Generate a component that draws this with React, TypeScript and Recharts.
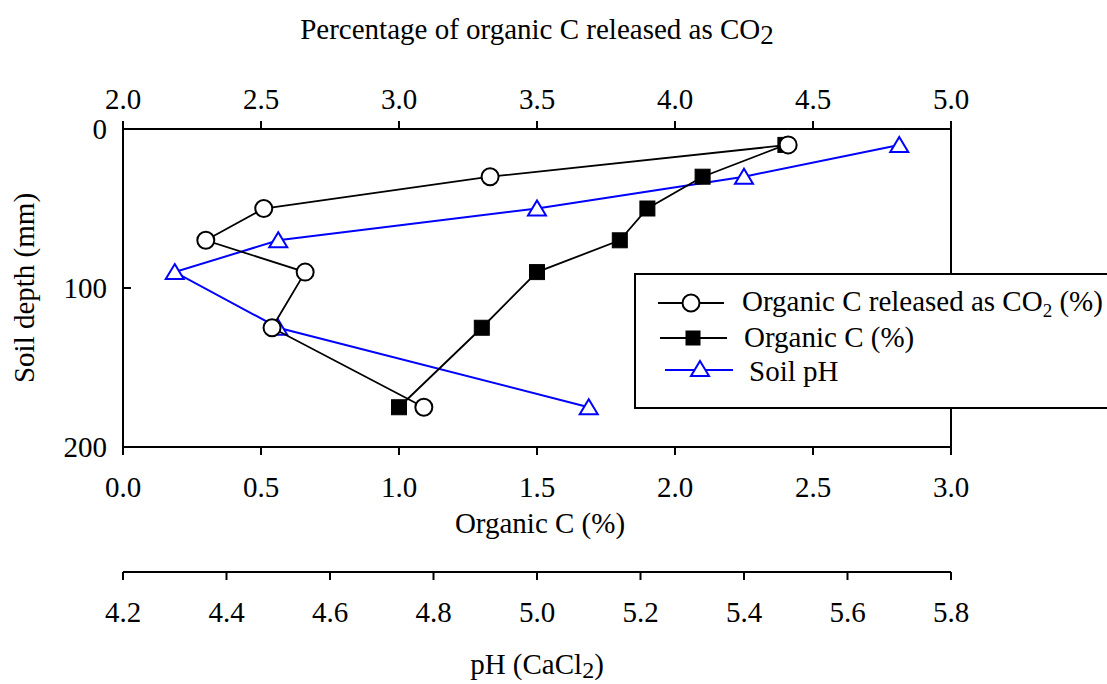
import React from 'react';
import { ScatterChart, Scatter, XAxis, YAxis, Legend, ReferenceLine, Label } from 'recharts';

// ---- data ----
const depths = [10, 30, 50, 70, 90, 125, 175];
const co2Released = [4.41, 3.33, 2.51, 2.3, 2.66, 2.54, 3.09];
const organicC = [2.4, 2.1, 1.9, 1.8, 1.5, 1.3, 1.0];
const soilPH = [5.7, 5.4, 5.0, 4.5, 4.3, 4.5, 5.1];

const co2Ticks = [2.0, 2.5, 3.0, 3.5, 4.0, 4.5, 5.0];
const orgCTicks = [0.0, 0.5, 1.0, 1.5, 2.0, 2.5, 3.0];
const phTicks = [4.2, 4.4, 4.6, 4.8, 5.0, 5.2, 5.4, 5.6, 5.8];
const depthTicks = [0, 100, 200];

const co2Data = depths.map((d, i) => ({ depth: d, value: co2Released[i] }));
const orgCData = depths.map((d, i) => ({ depth: d, value: organicC[i] }));
const phData = depths.map((d, i) => ({ depth: d, value: soilPH[i] }));

const FONT = '"Liberation Serif", "Times New Roman", serif';
const FS = 29;
const BLUE = '#0000ff';

const tickStyle = { fontSize: FS, fontFamily: FONT, fill: '#000' };
const axisLineStyle = { stroke: '#000', strokeWidth: 2 };
const fmt1 = (v: number) => v.toFixed(1);

const CircleShape = (p: any) => (
  <circle cx={p.cx} cy={p.cy} r={8.5} fill="#fff" stroke="#000" strokeWidth={2} />
);
const SquareShape = (p: any) => (
  <rect x={p.cx - 7.5} y={p.cy - 7.5} width={15} height={15} fill="#000" stroke="#000" strokeWidth={1} />
);
const TriangleShape = (p: any) => (
  <polygon
    points={`${p.cx},${p.cy - 8} ${p.cx + 9},${p.cy + 7} ${p.cx - 9},${p.cy + 7}`}
    fill="#fff"
    stroke={BLUE}
    strokeWidth={2}
  />
);

const LegendBox = () => (
  <div
    style={{
      width: 500,
      height: 132,
      border: '2px solid #000',
      background: '#fff',
      boxSizing: 'content-box',
    }}
  >
    <svg width={500} height={132} style={{ display: 'block' }} fontFamily={FONT} fontSize={FS}>
      <line x1={22} x2={88} y1={28} y2={28} stroke="#000" strokeWidth={1.8} />
      <circle cx={55} cy={28} r={8.5} fill="#fff" stroke="#000" strokeWidth={2} />
      <text x={106} y={36} fill="#000">
        <tspan>Organic C released as CO</tspan>
        <tspan dy={6} fontSize={19}>2</tspan>
        <tspan dy={-6}> (%)</tspan>
      </text>

      <line x1={24} x2={91} y1={63} y2={63} stroke="#000" strokeWidth={1.8} />
      <rect x={57 - 7.5} y={63 - 7.5} width={15} height={15} fill="#000" />
      <text x={108} y={72} fill="#000">Organic C (%)</text>

      <line x1={29} x2={97} y1={95} y2={95} stroke={BLUE} strokeWidth={2} />
      <polygon points={`64,86 73,101 55,101`} fill="#fff" stroke={BLUE} strokeWidth={2} />
      <text x={113} y={106} fill="#000">Soil pH</text>
    </svg>
  </div>
);

const TopTitle = (props: any) => {
  const vb = props.viewBox || { x: 123, y: 0, width: 828, height: 129 };
  return (
    <text x={vb.x + vb.width / 2} y={vb.y + 39} textAnchor="middle" fontFamily={FONT} fontSize={FS} fill="#000">
      <tspan>Percentage of organic C released as CO</tspan>
      <tspan dy={5} fontSize={27}>2</tspan>
    </text>
  );
};

const OrgCTitle = (props: any) => {
  const vb = props.viewBox || { x: 123, y: 447, width: 828, height: 125 };
  return (
    <text x={vb.x + vb.width / 2 + 3} y={vb.y + 86} textAnchor="middle" fontFamily={FONT} fontSize={FS} fill="#000">
      Organic C (%)
    </text>
  );
};

const PhTitle = (props: any) => {
  const vb = props.viewBox || { x: 123, y: 572, width: 828, height: 112 };
  return (
    <text x={vb.x + vb.width / 2} y={vb.y + 102} textAnchor="middle" fontFamily={FONT} fontSize={FS} fill="#000">
      <tspan>pH (CaCl</tspan>
      <tspan dy={4} fontSize={24}>2</tspan>
      <tspan dy={-4}>)</tspan>
    </text>
  );
};

const DepthTitle = (props: any) => {
  const vb = props.viewBox || { x: 0, y: 129, width: 123, height: 318 };
  const cy = vb.y + vb.height / 2;
  return (
    <text
      transform={`translate(34, ${cy}) rotate(-90)`}
      textAnchor="middle"
      fontFamily={FONT}
      fontSize={FS}
      fill="#000"
    >
      Soil depth (mm)
    </text>
  );
};

export default function App() {
  return (
    <div
      style={{
        position: 'absolute',
        left: 0,
        top: 0,
        width: 1107,
        height: 684,
        overflow: 'hidden',
        background: '#fff',
        fontFamily: FONT,
      }}
    >
      <ScatterChart width={1107} height={684} margin={{ top: 0, right: 156, bottom: 0, left: 0 }}>
        <XAxis
          xAxisId="co2"
          type="number"
          dataKey="value"
          orientation="top"
          domain={[2, 5]}
          ticks={co2Ticks}
          interval={0}
          tickFormatter={fmt1}
          height={129}
          tickSize={8}
          tickMargin={12}
          tick={tickStyle}
          axisLine={axisLineStyle}
          tickLine={axisLineStyle}
        >
          <Label content={TopTitle} />
        </XAxis>
        <XAxis
          xAxisId="orgc"
          type="number"
          dataKey="value"
          orientation="bottom"
          domain={[0, 3]}
          ticks={orgCTicks}
          interval={0}
          tickFormatter={fmt1}
          height={125}
          tickSize={8}
          tickMargin={21}
          tick={tickStyle}
          axisLine={axisLineStyle}
          tickLine={axisLineStyle}
        >
          <Label content={OrgCTitle} />
        </XAxis>
        <XAxis
          xAxisId="ph"
          type="number"
          dataKey="value"
          orientation="bottom"
          domain={[4.2, 5.8]}
          ticks={phTicks}
          interval={0}
          tickFormatter={fmt1}
          height={112}
          tickSize={8}
          tickMargin={21}
          tick={tickStyle}
          axisLine={axisLineStyle}
          tickLine={axisLineStyle}
        >
          <Label content={PhTitle} />
        </XAxis>
        <YAxis
          yAxisId="depth"
          type="number"
          dataKey="depth"
          domain={[0, 200]}
          reversed
          ticks={depthTicks}
          interval={0}
          width={123}
          tickSize={-8}
          tickMargin={24}
          tick={tickStyle}
          axisLine={axisLineStyle}
          tickLine={axisLineStyle}
        >
          <Label content={DepthTitle} />
        </YAxis>

        <ReferenceLine x={3} xAxisId="orgc" yAxisId="depth" stroke="#000" strokeWidth={2} />

        <Scatter
          name="Soil pH"
          data={phData}
          xAxisId="ph"
          yAxisId="depth"
          line={{ stroke: BLUE, strokeWidth: 2 }}
          lineType="joint"
          shape={TriangleShape}
          fill={BLUE}
          isAnimationActive={false}
        />
        <Scatter
          name="Organic C (%)"
          data={orgCData}
          xAxisId="orgc"
          yAxisId="depth"
          line={{ stroke: '#000', strokeWidth: 1.8 }}
          lineType="joint"
          shape={SquareShape}
          fill="#000"
          isAnimationActive={false}
        />
        <Scatter
          name="Organic C released as CO2 (%)"
          data={co2Data}
          xAxisId="co2"
          yAxisId="depth"
          line={{ stroke: '#000', strokeWidth: 1.8 }}
          lineType="joint"
          shape={CircleShape}
          fill="#000"
          isAnimationActive={false}
        />

        <Legend
          layout="horizontal"
          verticalAlign="middle"
          align="center"
          content={() => <LegendBox />}
          wrapperStyle={{ left: 634, top: 273, width: 504, height: 136 }}
        />
      </ScatterChart>
    </div>
  );
}
